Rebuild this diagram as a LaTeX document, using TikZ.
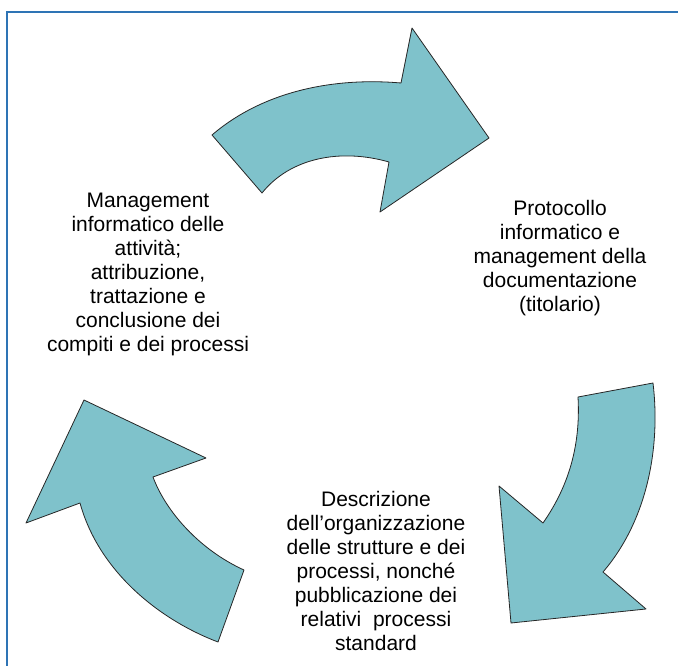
\documentclass[tikz,border=0pt]{standalone}
\usepackage{fontspec}
\setmainfont{Liberation Sans}
\usepackage{tikz}
\definecolor{framblue}{RGB}{46,116,181}
\definecolor{arrowteal}{RGB}{127,194,203}
\tikzset{
	cyclearrow/.style={fill=arrowteal, draw=black!85, line width=0.8pt, line join=round},
	steptext/.style={align=center, font=\fontsize{21}{24}\selectfont, text=black}
}

\begin{document}
\begin{tikzpicture}[x=1pt, y=-1pt]
		%%%%% START %%%%%
		
		\useasboundingbox (0, 0) rectangle (678, 666);
		\draw[line width=2pt, color=framblue] (678, 12) -- (7, 12) -- (7, 666);
		
		% top arrow
		\draw[cyclearrow] (212, 135) .. controls (262, 92) and (332, 77) .. (401, 83)
			-- (412, 28) -- (489, 138) -- (380, 212) -- (389, 162)
			.. controls (340, 148) and (290, 158) .. (262, 193) -- cycle;
		
		% right arrow
		\draw[cyclearrow] (653, 383) .. controls (661, 450) and (646, 522) .. (603, 572)
			-- (646, 609) -- (511, 623) -- (499, 486) -- (543, 523)
			.. controls (566, 490) and (581, 450) .. (578, 397) -- cycle;
		
		% left arrow
		\draw[cyclearrow] (84, 400) -- (206, 458) -- (153, 477)
			.. controls (166, 512) and (200, 550) .. (244, 570)
			-- (218, 642) .. controls (160, 620) and (99, 572) .. (80, 503)
			-- (26, 523) -- cycle;
		
		\node[steptext] (protocollo) at (560, 258) {Protocollo\\informatico e\\management della\\documentazione\\(titolario)};
		\node[steptext] (descrizione) at (376, 571) {Descrizione\\dell’organizzazione\\delle strutture e dei\\processi, nonché\\pubblicazione dei\\relativi\ \ processi\\standard};
		\node[steptext] (management) at (148, 274) {Management\\informatico delle\\attività;\\attribuzione,\\trattazione e\\conclusione dei\\compiti e dei processi};
		
		%%%%% END %%%%%
	\end{tikzpicture}
\end{document}
